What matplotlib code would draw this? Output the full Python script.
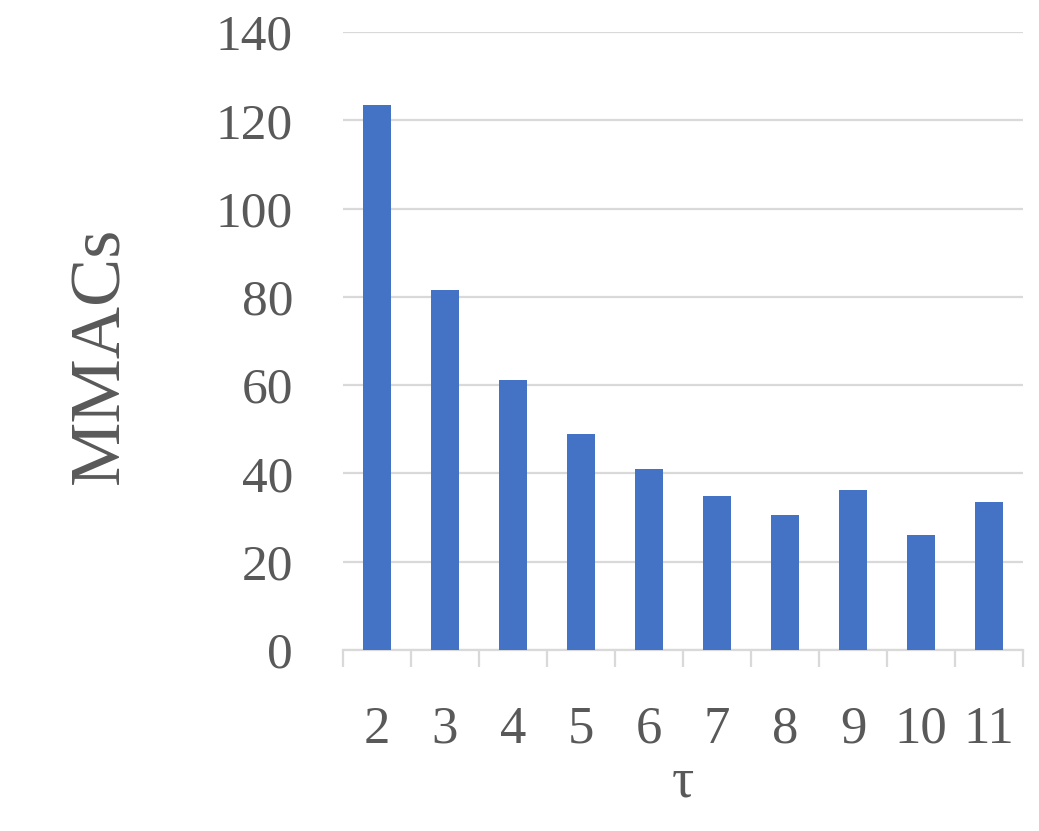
import matplotlib
matplotlib.use("Agg")
import matplotlib.pyplot as plt
import numpy as np

categories = ["2", "3", "4", "5", "6", "7", "8", "9", "10", "11"]
mmacs = [123.5, 81.6, 61.2, 48.9, 41.0, 34.9, 30.6, 36.2, 26.1, 33.5]
yticks = [0, 20, 40, 60, 80, 100, 120, 140]

plt.rcParams['font.family'] = ['Liberation Serif', 'DejaVu Serif']
txt = '#595959'
grid = '#d9d9d9'

fig = plt.figure(figsize=(10.39, 8.31), dpi=100)
ax = fig.add_axes([343/1039, 1-650/831, (1023-343)/1039, (650-32)/831])
x = np.arange(len(categories))
ax.bar(x, mmacs, width=0.4, color='#4472C4', zorder=3)
ax.set_xlim(-0.5, len(categories)-0.5)
ax.set_ylim(0, 140)
ax.set_yticks(yticks)
ax.set_yticklabels([str(v) for v in yticks], fontsize=37, color=txt)
ax.yaxis.grid(True, color=grid, linewidth=1.6, zorder=0)
ax.tick_params(axis='y', length=0, pad=36)
ax.set_xticks(x)
ax.set_xticklabels(categories, fontsize=38, color=txt)
ax.set_xticks(np.arange(-0.5, len(categories)), minor=True)
ax.tick_params(axis='x', which='major', length=0, pad=40)
ax.tick_params(axis='x', which='minor', length=12, width=1.6, color=grid)
for s in ['top', 'right', 'left']:
    ax.spines[s].set_visible(False)
ax.spines['bottom'].set_color(grid)
ax.spines['bottom'].set_linewidth(1.6)
ax.set_xlabel('τ', fontsize=40, color=txt, labelpad=2)
fig.text(101/1039, 1-355/831, 'MMACs', rotation=90, fontsize=52, color=txt,
         ha='center', va='center')
fig.savefig('out.png', dpi=100)
